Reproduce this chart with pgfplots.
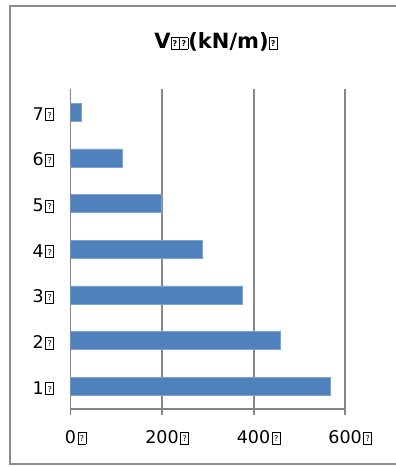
\documentclass[border=0pt]{standalone}
\usepackage{fontspec}
\setmainfont{DejaVu Sans}
\usepackage{pgfplots}
\pgfplotsset{compat=1.18}

\definecolor{barblue}{HTML}{4F81BD}
\definecolor{baredge}{HTML}{7FA3D0}
\definecolor{axgray}{HTML}{868686}
\definecolor{framegray}{HTML}{8C8C8C}

% missing-glyph box, as it shows in the original
\newcommand\tofu{{\setlength\fboxsep{0pt}\setlength\fboxrule{0.7pt}%
  \fbox{\makebox[7.5pt]{\rule{0pt}{11pt}\raisebox{2pt}{\fontsize{8}{8}\selectfont ?}}}}}
\newcommand\gtofu{\hspace{1.5pt}\tofu}

\begin{document}
\begin{tikzpicture}[x=1pt,y=1pt]
  \useasboundingbox (0,0) rectangle (396,467);
  % chart frame
  \draw[framegray, line width=1.4pt] (396,461) -- (10,461) -- (10,3) -- (396,3);

  \begin{axis}[
      at={(70.7pt,58pt)}, anchor=south west,
      scale only axis,
      width=274.6pt, height=319.7pt,
      xbar,
      bar width=0.394,
      xmin=0, xmax=600,
      ymin=0.5, ymax=7.5,
      axis lines*=left,
      axis line style={-, axgray, line width=1.6pt},
      xtick={0,200,400,600},
      xticklabels={0\gtofu,200\gtofu,400\gtofu,600\gtofu},
      ytick={1,...,7},
      yticklabels={1\gtofu,2\gtofu,3\gtofu,4\gtofu,5\gtofu,6\gtofu,7\gtofu},
      minor ytick={0.5,1.5,...,7.5},
      tick align=outside,
      major tick length=6pt,
      minor tick length=8pt,
      ytick style={draw=none},
      minor tick style={axgray, line width=1.6pt, draw=axgray},
      xtick style={axgray, line width=1.6pt},
      xmajorgrids=true,
      grid style={axgray, line width=1.6pt},
      tick label style={font=\fontsize{17.5}{20}\selectfont, black},
      yticklabel style={xshift=-7pt, yshift=-2pt},
      xticklabel style={yshift=-12pt, xshift=5pt},
      title={V\tofu\tofu(kN/m)\tofu},
      title style={at={(0.529,1)}, anchor=center, yshift=41pt,
                   font=\fontsize{21}{25}\selectfont\bfseries},
    ]
    \addplot[fill=barblue, draw=baredge, line width=0.5pt] coordinates {
      (568,1)
      (458,2)
      (374,3)
      (288,4)
      (198,5)
      (112,6)
      (23,7)
    };
  \end{axis}
\end{tikzpicture}
\end{document}
